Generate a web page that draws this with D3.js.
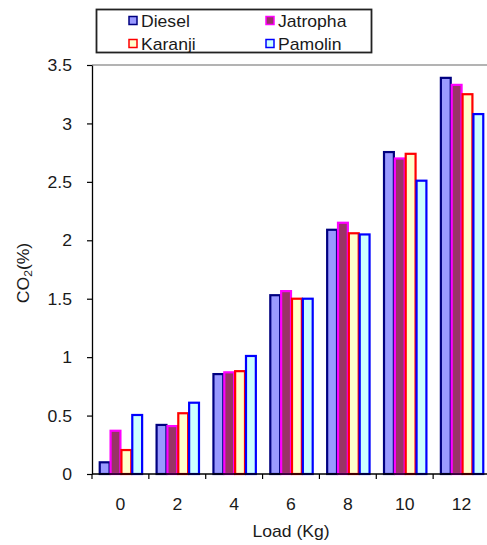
<!DOCTYPE html>
<html>
<head>
<meta charset="utf-8">
<script src="https://cdn.jsdelivr.net/npm/d3@7/dist/d3.min.js"></script>
<style>
  html, body { margin: 0; padding: 0; background: #fff; }
  svg { display: block; }
  text { font-family: "Liberation Sans", Arial, sans-serif; fill: #1a1a1a; }
</style>
</head>
<body>
<svg id="chart" width="487" height="545"></svg>
<script>
// Engine load categories (Kg)
const loads = ["0", "2", "4", "6", "8", "10", "12"];
// Fuel series
const fuels = ["Diesel", "Jatropha", "Karanji", "Pamolin"];
// CO2 emission (%) per fuel at each load
const diesel   = [0.10, 0.42, 0.855, 1.53, 2.09, 2.755, 3.39];
const jatropha = [0.37, 0.41, 0.87, 1.565, 2.15, 2.70, 3.33];
const karanji  = [0.205, 0.52, 0.88, 1.50, 2.06, 2.74, 3.25];
const pamolin  = [0.505, 0.61, 1.01, 1.50, 2.05, 2.51, 3.08];
// Y axis ticks
const yTicks = [0, 0.5, 1, 1.5, 2, 2.5, 3, 3.5];

const seriesValues = { Diesel: diesel, Jatropha: jatropha, Karanji: karanji, Pamolin: pamolin };
const fills   = { Diesel: "#9999ff", Jatropha: "#993366", Karanji: "#ffffcc", Pamolin: "#ccffff" };
const strokes = { Diesel: "#000080", Jatropha: "#ff00ff", Karanji: "#ff0000", Pamolin: "#0000ff" };

const svg = d3.select("#chart");
const plot = { left: 92, right: 490, top: 65, bottom: 474 };
const SX = 1.1; // horizontal text stretch

const x = d3.scaleBand().domain(loads).range([plot.left, plot.right]).paddingInner(0).paddingOuter(0);
const xs = d3.scaleBand().domain(fuels).range([0, x.bandwidth()]).paddingInner(0).paddingOuter(0.62);
const y = d3.scaleLinear().domain([0, 3.5]).range([plot.bottom, plot.top]);

// top frame line of the plot area
svg.append("line")
  .attr("x1", plot.left).attr("x2", plot.right)
  .attr("y1", plot.top).attr("y2", plot.top)
  .attr("stroke", "#9a9a9a").attr("stroke-width", 1.5);

// bars
const rows = loads.map((l, i) => ({ load: l, vals: fuels.map(f => ({ fuel: f, v: seriesValues[f][i] })) }));
const groups = svg.append("g").selectAll("g").data(rows).join("g")
  .attr("transform", d => `translate(${x(d.load)},0)`);
groups.selectAll("rect").data(d => d.vals).join("rect")
  .attr("x", d => xs(d.fuel) + 1)
  .attr("width", xs.bandwidth() - 1)
  .attr("y", d => y(d.v))
  .attr("height", d => plot.bottom - y(d.v))
  .attr("fill", d => fills[d.fuel])
  .attr("stroke", d => strokes[d.fuel])
  .attr("stroke-width", 2.2);

// y axis
const yAxis = svg.append("g")
  .attr("transform", `translate(${plot.left},0)`)
  .call(d3.axisLeft(y).tickValues(yTicks).tickSize(5).tickPadding(15).tickSizeOuter(0).tickFormat(d => String(d)));
yAxis.select(".domain").attr("stroke", "#000").attr("stroke-width", 1.3);
yAxis.selectAll(".tick line").attr("stroke", "#000").attr("stroke-width", 1.2);
yAxis.selectAll("text")
  .attr("font-size", 16).attr("fill", "#1a1a1a")
  .attr("font-family", "Liberation Sans, Arial, sans-serif")
  .attr("x", null).attr("dy", "0.35em")
  .attr("transform", `translate(-20,0) scale(${SX},1)`);

// x axis: ticks at category boundaries
const xAxisG = svg.append("g").attr("transform", `translate(0,${plot.bottom})`);
xAxisG.append("line").attr("x1", plot.left).attr("x2", plot.right)
  .attr("stroke", "#000").attr("stroke-width", 1.3);
const boundaries = loads.map(l => x(l)).concat([x(loads[loads.length - 1]) + x.bandwidth()]);
xAxisG.selectAll("line.tk").data(boundaries).join("line").attr("class", "tk")
  .attr("x1", d => d).attr("x2", d => d).attr("y1", 0).attr("y2", 5)
  .attr("stroke", "#000").attr("stroke-width", 1.2);
xAxisG.selectAll("text").data(loads).join("text")
  .attr("text-anchor", "middle").attr("font-size", 16)
  .attr("transform", d => `translate(${x(d) + x.bandwidth() / 2},36) scale(${SX},1)`)
  .text(d => d);

// axis titles
svg.append("text")
  .attr("text-anchor", "middle").attr("font-size", 16)
  .attr("transform", `translate(${(plot.left + plot.right) / 2},537) scale(${SX},1)`)
  .text("Load (Kg)");

const yt = svg.append("text")
  .attr("text-anchor", "middle").attr("font-size", 16)
  .attr("transform", `translate(29,273) rotate(-90) scale(${SX},1)`);
yt.append("tspan").text("CO");
yt.append("tspan").attr("font-size", 11).attr("dy", 3).text("2");
yt.append("tspan").attr("dy", -3).text("(%)");

// legend
const legend = svg.append("g");
legend.append("rect")
  .attr("x", 96.5).attr("y", 9.5).attr("width", 275).attr("height", 43)
  .attr("fill", "#fff").attr("stroke", "#222").attr("stroke-width", 1.8);
const legendPos = [
  { fuel: "Diesel", x: 129, y: 20.5 },
  { fuel: "Jatropha", x: 266, y: 20.5 },
  { fuel: "Karanji", x: 129, y: 43.5 },
  { fuel: "Pamolin", x: 266, y: 43.5 }
];
const li = legend.selectAll("g.item").data(legendPos).join("g").attr("class", "item");
li.append("rect")
  .attr("x", d => d.x).attr("y", d => d.y - 4).attr("width", 8).attr("height", 8)
  .attr("fill", d => fills[d.fuel]).attr("stroke", d => strokes[d.fuel]).attr("stroke-width", 1.5);
li.append("text")
  .attr("font-size", 16)
  .attr("transform", d => `translate(${d.x + 12},${d.y + 6}) scale(${SX},1)`)
  .text(d => d.fuel);
</script>
</body>
</html>
